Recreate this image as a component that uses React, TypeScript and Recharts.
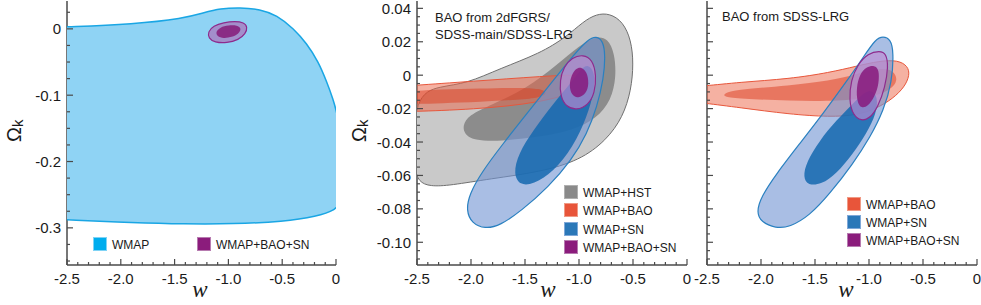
import React from 'react'
import { ScatterChart, Scatter, XAxis, YAxis } from 'recharts'

const FONT = '"Liberation Sans", Arial, Helvetica, sans-serif'
const INK = '#1a1a1a'
const FRAME = '#4a4a4a'

type Pt = { w: number; k: number }
const pts = (a: number[][]): Pt[] => a.map(([w, k]) => ({ w, k }))

// axis ticks
const W_TICKS = [-2.5, -2.4, -2.3, -2.2, -2.1, -2.0, -1.9, -1.8, -1.7, -1.6, -1.5, -1.4, -1.3, -1.2, -1.1, -1.0, -0.9, -0.8, -0.7, -0.6, -0.5, -0.4, -0.3, -0.2, -0.1, 0]
const W_MAJOR = [-2.5, -2.0, -1.5, -1.0, -0.5, 0]
const K1_TICKS = [-0.35, -0.325, -0.3, -0.275, -0.25, -0.225, -0.2, -0.175, -0.15, -0.125, -0.1, -0.075, -0.05, -0.025, 0, 0.025]
const K1_MAJOR = [-0.3, -0.2, -0.1, 0]
const K2_TICKS = [-0.11, -0.105, -0.1, -0.095, -0.09, -0.085, -0.08, -0.075, -0.07, -0.065, -0.06, -0.055, -0.05, -0.045, -0.04, -0.035, -0.03, -0.025, -0.02, -0.015, -0.01, -0.005, 0, 0.005, 0.01, 0.015, 0.02, 0.025, 0.03, 0.035, 0.04]
const K2_MAJOR = [-0.1, -0.08, -0.06, -0.04, -0.02, 0, 0.02, 0.04]

// panel 1: WMAP only vs WMAP+BAO+SN
const WMAP_1 = pts([
  [-2.8, 0.003], [-2.7, 0.003], [-2.6, 0.003], [-2.5, 0.003], [-1.881, 0.007], [-1.417, 0.0156], [-1.231, 0.0241],
  [-1.076, 0.0306], [-0.891, 0.0321], [-0.705, 0.0296], [-0.55, 0.0206], [-0.395, 0.0005], [-0.272, -0.0221],
  [-0.163, -0.0497], [-0.086, -0.0798], [-0.024, -0.1074], [0, -0.122], [0.04, -0.15], [0.06, -0.2], [0.05, -0.26],
  [0, -0.273], [-0.179, -0.283], [-0.488, -0.2907], [-0.953, -0.2942], [-1.417, -0.2942], [-1.881, -0.2922],
  [-2.5, -0.288], [-2.6, -0.287], [-2.7, -0.287], [-2.8, -0.287],
])
const PURPLE_OUT_1 = pts([
  [-1.19, -0.0045], [-1.14, 0.0045], [-1.045, 0.0095], [-0.937, 0.0115], [-0.855, 0.0095], [-0.822, 0.003],
  [-0.84, -0.0075], [-0.906, -0.0165], [-1.014, -0.0215], [-1.128, -0.0205], [-1.185, -0.014],
])
const PURPLE_IN_1 = pts([
  [-1.118, -0.0045], [-1.078, 0.0025], [-0.999, 0.0055], [-0.918, 0.0055], [-0.878, 0.0005], [-0.903, -0.0075],
  [-0.968, -0.0125], [-1.045, -0.0145], [-1.106, -0.0115],
])

// panel 2: BAO from 2dFGRS/SDSS-main/SDSS-LRG
const GRAY_OUT_2 = pts([
  [-2.53, -0.012], [-2.285, -0.0066], [-2.039, -0.005], [-1.731, 0.004], [-1.362, 0.013], [-1.116, 0.023],
  [-0.962, 0.032], [-0.84, 0.0366], [-0.716, 0.037], [-0.593, 0.032], [-0.517, 0.021], [-0.495, 0.007],
  [-0.517, -0.009], [-0.593, -0.025], [-0.747, -0.039], [-0.993, -0.051], [-1.362, -0.058], [-1.823, -0.062],
  [-2.193, -0.066], [-2.377, -0.0666], [-2.485, -0.064], [-2.53, -0.055],
])
const GRAY_IN_2 = pts([
  [-2.076, -0.03], [-2.023, -0.024], [-1.823, -0.018], [-1.485, -0.008], [-1.208, 0.006], [-0.993, 0.018],
  [-0.84, 0.0234], [-0.732, 0.022], [-0.67, 0.013], [-0.655, -0.001], [-0.701, -0.015], [-0.84, -0.026],
  [-1.055, -0.033], [-1.362, -0.037], [-1.731, -0.0396], [-1.977, -0.039], [-2.063, -0.035],
])
const RED_OUT_2 = pts([
  [-2.9, -0.0075], [-2.7, -0.0068], [-2.5, -0.006], [-2.285, -0.005], [-1.977, -0.0036], [-1.67, -0.0022],
  [-1.362, -0.0008], [-1.086, 0.0002], [-0.947, -0.0002], [-0.901, -0.003], [-0.947, -0.007], [-1.086, -0.0114],
  [-1.362, -0.016], [-1.67, -0.0186], [-1.977, -0.0202], [-2.285, -0.0212], [-2.5, -0.0216], [-2.7, -0.022],
  [-2.9, -0.0222],
])
const RED_IN_2 = pts([
  [-2.9, -0.0098], [-2.7, -0.0096], [-2.5, -0.0094], [-2.285, -0.0086], [-1.916, -0.008], [-1.547, -0.0074],
  [-1.362, -0.008], [-1.285, -0.0106], [-1.362, -0.0134], [-1.547, -0.0146], [-1.916, -0.016], [-2.285, -0.0168],
  [-2.5, -0.0172], [-2.7, -0.0174], [-2.9, -0.0176],
])
const BLUE_OUT_2 = pts([
  [-0.84, 0.0234], [-0.778, 0.0206], [-0.756, 0.012], [-0.772, -0.002], [-0.833, -0.019], [-0.926, -0.035],
  [-1.07, -0.051], [-1.285, -0.067], [-1.531, -0.081], [-1.731, -0.09], [-1.87, -0.092], [-1.993, -0.0886],
  [-2.045, -0.081], [-2.014, -0.071], [-1.9, -0.058], [-1.716, -0.042], [-1.47, -0.022], [-1.224, -0.002],
  [-1.039, 0.013], [-0.916, 0.0214],
])
const BLUE_IN_2 = pts([
  [-0.916, 0.0066], [-0.855, 0.002], [-0.855, -0.009], [-0.926, -0.025], [-1.055, -0.043], [-1.239, -0.058],
  [-1.424, -0.0654], [-1.547, -0.066], [-1.608, -0.059], [-1.562, -0.047], [-1.424, -0.033], [-1.239, -0.017],
  [-1.055, -0.003], [-0.978, 0.004],
])
const PURPLE_OUT_2 = pts([
  [-0.962, 0.0124], [-0.876, 0.0094], [-0.839, 0], [-0.855, -0.011], [-0.916, -0.018], [-1.024, -0.021],
  [-1.116, -0.019], [-1.172, -0.013], [-1.178, -0.003], [-1.141, 0.005], [-1.064, 0.0106],
])
const PURPLE_IN_2 = pts([
  [-0.978, 0.005], [-0.926, 0.002], [-0.907, -0.005], [-0.932, -0.011], [-1.009, -0.014], [-1.07, -0.012],
  [-1.092, -0.006], [-1.07, 0], [-1.03, 0.004],
])

// panel 3: BAO from SDSS-LRG
const RED_OUT_3 = pts([
  [-2.9, -0.0075], [-2.7, -0.007], [-2.537, -0.0066], [-2.198, -0.0042], [-1.735, -0.0022], [-1.364, 0.0016],
  [-1.117, 0.0054], [-0.901, 0.0086], [-0.731, 0.009], [-0.639, 0.0054], [-0.623, 0], [-0.67, -0.007],
  [-0.778, -0.014], [-0.932, -0.02], [-1.117, -0.024], [-1.364, -0.025], [-1.735, -0.0234], [-2.198, -0.0194],
  [-2.537, -0.0166], [-2.7, -0.0156], [-2.9, -0.015],
])
const RED_IN_3 = pts([
  [-2.35, -0.011], [-2.228, -0.0086], [-1.735, -0.0062], [-1.364, -0.0034], [-1.117, 0.0006], [-0.901, 0.0044],
  [-0.772, 0.003], [-0.731, -0.003], [-0.793, -0.0086], [-0.963, -0.013], [-1.272, -0.0156], [-1.735, -0.0154],
  [-2.198, -0.014], [-2.34, -0.013],
])
const BLUE_OUT_3 = pts([
  [-0.87, 0.0234], [-0.799, 0.0214], [-0.772, 0.014], [-0.787, -0.004], [-0.864, -0.021], [-0.988, -0.037],
  [-1.148, -0.053], [-1.364, -0.071], [-1.549, -0.084], [-1.735, -0.091], [-1.864, -0.0916], [-1.997, -0.088],
  [-2.043, -0.082], [-1.997, -0.0726], [-1.858, -0.059], [-1.642, -0.041], [-1.426, -0.023], [-1.21, -0.004],
  [-1.04, 0.012], [-0.941, 0.0214],
])
const BLUE_IN_3 = pts([
  [-0.978, -0.0086], [-0.917, -0.013], [-0.932, -0.023], [-1.025, -0.035], [-1.148, -0.047], [-1.302, -0.059],
  [-1.441, -0.0654], [-1.565, -0.066], [-1.611, -0.061], [-1.58, -0.052], [-1.457, -0.039], [-1.302, -0.027],
  [-1.148, -0.017], [-1.056, -0.011],
])
const PURPLE_OUT_3 = pts([
  [-0.901, 0.0146], [-0.84, 0.013], [-0.821, 0.005], [-0.852, -0.0074], [-0.917, -0.019], [-0.994, -0.026],
  [-1.071, -0.0274], [-1.148, -0.024], [-1.185, -0.015], [-1.167, -0.003], [-1.105, 0.0064], [-1.009, 0.013],
])
const PURPLE_IN_3 = pts([
  [-0.948, 0.006], [-0.907, 0.0034], [-0.907, -0.005], [-0.948, -0.013], [-1.009, -0.0186], [-1.071, -0.02],
  [-1.111, -0.016], [-1.117, -0.0074], [-1.086, 0.0006], [-1.025, 0.005],
])

const isIn = (arr: number[], v: number) => arr.some((a) => Math.abs(a - v) < 1e-9)
const fmt = (v: number, d: number) => (Math.abs(v) < 1e-9 ? '0' : v.toFixed(d))

function contour(key: string, data: Pt[], fill: string, stroke = 'none', sw = 1) {
  return (
    <Scatter
      key={key}
      data={data}
      dataKey="k"
      isAnimationActive={false}
      legendType="none"
      shape={() => <g />}
      line={{ fill, stroke, strokeWidth: sw }}
      lineType="joint"
      lineJointType="basisClosed"
    />
  )
}

const tickText = { fontSize: 15, fill: INK, fontFamily: FONT }

const bottomTick = (p: any) => {
  const big = isIn(W_MAJOR, p.payload.value)
  return (
    <g>
      <line x1={p.x} x2={p.x} y1={p.y} y2={p.y - (big ? 6 : 3)} stroke={FRAME} strokeWidth={1.2} />
      {big && (
        <text x={p.x} y={p.y + 19} textAnchor="middle" {...tickText}>
          {fmt(p.payload.value, 1)}
        </text>
      )}
    </g>
  )
}
const topTick = (p: any) => {
  const big = isIn(W_MAJOR, p.payload.value)
  return <line x1={p.x} x2={p.x} y1={p.y} y2={p.y + (big ? 6 : 3)} stroke={FRAME} strokeWidth={1.2} />
}
const leftTick = (major: number[], digits: number, labels: boolean) => (p: any) => {
  const big = isIn(major, p.payload.value)
  return (
    <g>
      <line x1={p.x} x2={p.x + (big ? 6 : 3)} y1={p.y} y2={p.y} stroke={FRAME} strokeWidth={1.2} />
      {big && labels && (
        <text x={p.x - 6} y={p.y + 5.5} textAnchor="end" {...tickText}>
          {fmt(p.payload.value, digits)}
        </text>
      )}
    </g>
  )
}
const rightTick = (major: number[]) => (p: any) => {
  const big = isIn(major, p.payload.value)
  return <line x1={p.x} x2={p.x - (big ? 6 : 3)} y1={p.y} y2={p.y} stroke={FRAME} strokeWidth={1.2} />
}

interface PanelProps {
  width: number
  yWidth: number
  right: number
  yDomain: [number, number]
  yTicks: number[]
  yMajor: number[]
  digits: number
  labels: boolean
  layers: React.ReactNode[]
}

function Panel({ width, yWidth, right, yDomain, yTicks, yMajor, digits, labels, layers }: PanelProps) {
  const axisLine = { stroke: FRAME, strokeWidth: 1.5 }
  return (
    <ScatterChart width={width} height={305} margin={{ top: 1, right, bottom: 0, left: 0 }}>
      <XAxis type="number" dataKey="w" domain={[-2.5, 0]} allowDataOverflow ticks={W_TICKS} interval={0}
        height={40} tickSize={0} tickMargin={0} tickLine={false} axisLine={axisLine} tick={bottomTick} />
      <XAxis xAxisId="t" orientation="top" type="number" domain={[-2.5, 0]} allowDataOverflow ticks={W_TICKS}
        interval={0} height={0} tickSize={0} tickMargin={0} tickLine={false} axisLine={axisLine} tick={topTick} />
      <YAxis type="number" dataKey="k" domain={yDomain} allowDataOverflow ticks={yTicks} interval={0}
        width={yWidth} tickSize={0} tickMargin={0} tickLine={false} axisLine={axisLine}
        tick={leftTick(yMajor, digits, labels)} />
      <YAxis yAxisId="r" orientation="right" type="number" domain={yDomain} allowDataOverflow ticks={yTicks}
        interval={0} width={0} tickSize={0} tickMargin={0} tickLine={false} axisLine={axisLine}
        tick={rightTick(yMajor)} />
      {layers}
    </ScatterChart>
  )
}

const C = {
  wmap: '#8fd3f4', wmapLine: '#1aa6e4', wmapKey: '#00adee',
  grayOut: '#c9c9c9', grayIn: '#8c8c8c', grayLine: '#707070', grayKey: '#8a8a8a',
  redOut: 'rgba(235,100,70,0.5)', redIn: 'rgba(220,60,30,0.5)', redLine: '#e8573c', redKey: '#e8553a',
  blueOut: 'rgba(112,147,210,0.6)', blueIn: 'rgba(20,105,175,0.85)', blueLine: '#2a80c0', blueKey: '#2b78b8',
  purOut: 'rgba(190,140,210,0.65)', purIn: 'rgba(135,25,125,0.85)', purLine: '#8e2a8c', purKey: '#8b1c7c',
}

function Key({ x, y, color, border, label }: { x: number; y: number; color: string; border: string; label: string }) {
  return (
    <g>
      <rect x={x + 0.5} y={y + 0.5} width={13} height={13} fill={color} stroke={border} />
      <text x={x + 19} y={y + 12} fontSize={12} fill={INK} fontFamily={FONT}>{label}</text>
    </g>
  )
}

function Omega({ x, y }: { x: number; y: number }) {
  return (
    <text transform={`translate(${x},${y}) rotate(-90)`} fontSize={20} fill={INK} fontFamily={FONT}>
      Ω<tspan fontSize={15} dy={2}>k</tspan>
    </text>
  )
}

function WLabel({ x }: { x: number }) {
  return (
    <text x={x} y={297} textAnchor="middle" fontSize={23} fontStyle="italic" fill={INK}
      fontFamily='"Liberation Serif", "Times New Roman", serif'>w</text>
  )
}

export default function App() {
  return (
    <div style={{ position: 'absolute', left: 0, top: 0, width: 981, height: 305, background: '#fff' }}>
      <div style={{ position: 'absolute', left: 0, top: 0 }}>
        <Panel width={345} yWidth={67} right={9} yDomain={[-0.356, 0.042]} yTicks={K1_TICKS} yMajor={K1_MAJOR}
          digits={1} labels
          layers={[
            contour('wmap', WMAP_1, C.wmap, C.wmapLine, 1.5),
            contour('po', PURPLE_OUT_1, 'rgba(170,120,190,0.75)', C.purLine, 1.2),
            contour('pi', PURPLE_IN_1, '#8a2c85'),
          ]} />
      </div>
      <div style={{ position: 'absolute', left: 345, top: 0 }}>
        <Panel width={350} yWidth={72} right={8} yDomain={[-0.1136, 0.0444]} yTicks={K2_TICKS} yMajor={K2_MAJOR}
          digits={2} labels
          layers={[
            contour('go', GRAY_OUT_2, C.grayOut, C.grayLine, 1),
            contour('gi', GRAY_IN_2, C.grayIn),
            contour('ro', RED_OUT_2, C.redOut, C.redLine, 1),
            contour('ri', RED_IN_2, C.redIn),
            contour('bo', BLUE_OUT_2, C.blueOut, C.blueLine, 1.2),
            contour('bi', BLUE_IN_2, C.blueIn),
            contour('po', PURPLE_OUT_2, C.purOut, C.purLine, 1.2),
            contour('pi', PURPLE_IN_2, C.purIn),
          ]} />
      </div>
      <div style={{ position: 'absolute', left: 690, top: 0 }}>
        <Panel width={291} yWidth={17} right={4} yDomain={[-0.1136, 0.0444]} yTicks={K2_TICKS} yMajor={K2_MAJOR}
          digits={2} labels={false}
          layers={[
            contour('ro', RED_OUT_3, C.redOut, C.redLine, 1),
            contour('ri', RED_IN_3, C.redIn),
            contour('bo', BLUE_OUT_3, C.blueOut, C.blueLine, 1.2),
            contour('bi', BLUE_IN_3, C.blueIn),
            contour('po', PURPLE_OUT_3, C.purOut, C.purLine, 1.2),
            contour('pi', PURPLE_IN_3, C.purIn),
          ]} />
      </div>
      <svg width={981} height={305} style={{ position: 'absolute', left: 0, top: 0, pointerEvents: 'none' }}>
        <Omega x={21} y={142} />
        <Omega x={366} y={142} />
        <WLabel x={200} />
        <WLabel x={548} />
        <WLabel x={846} />

        <Key x={93} y={237} color={C.wmapKey} border="#7fd3f5" label="WMAP" />
        <Key x={197} y={237} color={C.purKey} border="#b77bb0" label="WMAP+BAO+SN" />

        <text x={435} y={22} fontSize={13} fill={INK} fontFamily={FONT}>BAO from 2dFGRS/</text>
        <text x={435} y={39} fontSize={13} fill={INK} fontFamily={FONT}>SDSS-main/SDSS-LRG</text>
        <Key x={564} y={185} color={C.grayKey} border="#b0b0b0" label="WMAP+HST" />
        <Key x={564} y={203} color={C.redKey} border="#f09a85" label="WMAP+BAO" />
        <Key x={564} y={222} color={C.blueKey} border="#7fa8d8" label="WMAP+SN" />
        <Key x={564} y={240} color={C.purKey} border="#b77bb0" label="WMAP+BAO+SN" />

        <text x={722} y={21} fontSize={13} fill={INK} fontFamily={FONT}>BAO from SDSS-LRG</text>
        <Key x={847} y={197} color={C.redKey} border="#f09a85" label="WMAP+BAO" />
        <Key x={847} y={215} color={C.blueKey} border="#7fa8d8" label="WMAP+SN" />
        <Key x={847} y={233} color={C.purKey} border="#b77bb0" label="WMAP+BAO+SN" />
      </svg>
    </div>
  )
}
